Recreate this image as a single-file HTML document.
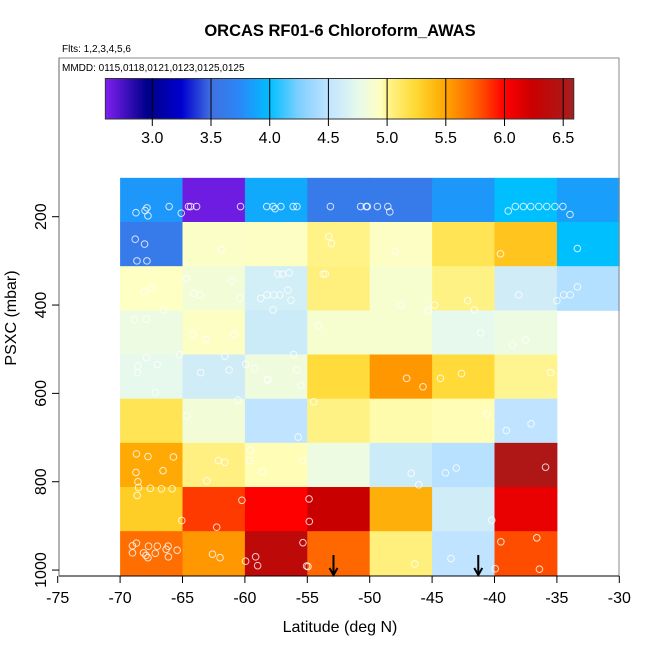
<!DOCTYPE html>
<html><head><meta charset="utf-8"><style>
html,body{margin:0;padding:0;background:#fff;}
svg{display:block;font-family:"Liberation Sans",sans-serif;}
</style></head><body>
<svg id="chart" width="650" height="650" viewBox="0 0 650 650" xmlns="http://www.w3.org/2000/svg">
<rect width="650" height="650" fill="#fff"/>
<text x="340" y="36" text-anchor="middle" font-size="16.5" font-weight="bold">ORCAS RF01-6 Chloroform_AWAS</text>
<text x="62" y="52" font-size="10">Flts: 1,2,3,4,5,6</text>
<text x="62" y="71" font-size="10">MMDD: 0115,0118,0121,0123,0125,0125</text>
<g id="cells"></g>
<g id="pts"></g>
<g id="arrows"></g>
<rect x="59" y="58" width="560" height="518" fill="none" stroke="#888" stroke-width="1"/>
<line x1="59" y1="576" x2="619" y2="576" stroke="#000" stroke-width="1"/>
<line x1="59" y1="58" x2="59" y2="576" stroke="#666" stroke-width="1"/>
<g id="cbar"></g>
<g id="xaxis"></g>
<g id="yaxis"></g>
<text x="340" y="632" text-anchor="middle" font-size="16">Latitude (deg N)</text>
<text transform="translate(16,318) rotate(-90)" text-anchor="middle" font-size="16">PSXC (mbar)</text>
</svg>
<script>
const latEdges = [-70,-65,-60,-55,-50,-45,-40,-35,-30];
const presEdges = [112,212,312,412,512,612,712,812,912,1012];
const cellValues = [
 [3.82,2.65,3.9,3.6,3.6,3.82,4.0,3.85],
 [3.6,4.92,4.93,5.02,4.93,5.15,5.35,4.0],
 [4.94,4.85,4.62,5.05,4.88,5.03,4.6,4.45],
 [4.8,4.93,4.58,4.88,4.88,4.75,4.8,null],
 [4.75,4.6,4.82,5.22,5.55,5.23,5.0,null],
 [5.15,4.85,4.5,5.03,4.97,4.96,4.5,null],
 [5.48,5.04,4.96,4.8,4.58,4.47,6.5,null],
 [5.3,5.85,6.0,6.25,5.45,4.6,6.1,null],
 [5.7,5.55,6.35,5.72,5.05,4.5,5.8,null]
];
const ptLat = [-68.73,-68.0,-67.85,-67.77,-66.07,-65.1,-64.52,-64.35,-63.87,-60.35,-58.25,-57.74,-57.58,-57.12,-56.13,-55.83,-53.15,-50.73,-50.27,-50.19,-49.38,-48.55,-48.39,-38.9,-38.33,-37.69,-37.1,-36.45,-35.81,-35.16,-34.52,-33.95,
-68.79,-68.04,-68.65,-67.85,-61.91,-53.28,-53.06,-47.96,-39.52,-33.36,
-67.52,-68.09,-66.53,-64.7,-64.09,-63.6,-61.05,-60.4,-57.36,-56.99,-56.45,-58.73,-58.23,-57.69,-57.2,-56.56,-56.31,-57.74,-53.73,-53.55,-47.5,-45.32,-44.81,-42.15,-41.61,-38.06,-35.0,-34.46,-33.93,-33.36,
-68.85,-67.9,-64.17,-63.12,-60.89,-54.09,-41.1,-38.57,-37.52,
-67.88,-67.02,-68.57,-68.6,-65.24,-61.61,-63.55,-61.27,-59.94,-59.22,-56.1,-55.83,-58.21,-67.18,-60.56,-58.17,-55.51,-47.04,-45.73,-44.33,-42.64,-35.51,
-64.65,-55.73,-54.49,-40.62,-39.06,-37.07,
-68.69,-67.77,-65.73,-68.73,-66.56,-68.57,-68.52,-67.58,-66.69,-65.83,-68.63,-62.12,-61.61,-63.06,-59.54,-59.62,-58.6,-55.38,-46.67,-46.07,-43.93,-43.06,-35.91,
-65.06,-60.24,-62.26,-54.86,-54.84,-40.22,
-69.01,-68.69,-69.01,-68.12,-67.93,-67.77,-67.72,-67.02,-67.18,-66.31,-66.15,-66.13,-65.43,-62.6,-61.99,-59.94,-59.14,-58.98,-55.35,-55.06,-54.94,-46.39,-43.49,-39.94,-39.49,-36.61,-36.4];
const ptPres = [191,186,180,198,177,192,177,177,177,177,177,177,182,177,177,177,177,177,177,177,177,177,189,187,177,177,177,177,177,177,177,195,
251,262,300,300,275,245,261,278,284,272,
361,370,411,340,373,377,345,385,330,330,327,385,377,377,377,366,389,411,330,330,401,413,400,390,411,377,390,377,377,359,
433,432,466,478,466,447,463,490,479,
519,535,538,553,512,516,553,547,534,544,512,547,568,598,615,570,582,566,585,566,555,553,
651,699,619,647,684,669,
737,743,744,779,775,800,813,815,816,816,831,752,756,798,729,752,777,752,781,807,780,769,767,
888,842,903,839,890,887,
945,939,961,961,967,972,946,946,962,953,946,970,955,964,972,980,970,990,938,991,992,986,974,997,936,927,998];
const arrowLat = [-52.9,-41.3];
const xTicks = [-75,-70,-65,-60,-55,-50,-45,-40,-35,-30];
const yTicks = [200,400,600,800,1000];
const cbTicks = [3.0,3.5,4.0,4.5,5.0,5.5,6.0,6.5];
const cbRange = [2.6,6.59];

const NS='http://www.w3.org/2000/svg';
function xs(l){return 120.1+(l+70)*12.48;}
function ys(p){return 216.7+(p-200)*0.4417;}
function cbx(v){return 152.3+(v-3.0)*117.4;}
const stops=[[2.6,'#8020f0'],[2.95,'#00008b'],[3.0,'#000090'],[3.25,'#0000d0'],[3.5,'#4070e0'],[3.75,'#2a88f8'],[4.0,'#00bfff'],[4.25,'#7fcfff'],[4.5,'#c0e4ff'],[4.75,'#e6f9ec'],[4.95,'#ffffc0'],[5.0,'#fff590'],[5.25,'#ffd830'],[5.5,'#ffa500'],[5.75,'#ff6000'],[6.0,'#ff0000'],[6.25,'#c80000'],[6.6,'#a52020']];
function hex(h){return [1,3,5].map(i=>parseInt(h.substr(i,2),16));}
function cmap(v){
  if(v<=stops[0][0])return stops[0][1];
  for(let i=1;i<stops.length;i++){if(v<=stops[i][0]){const a=hex(stops[i-1][1]),b=hex(stops[i][1]);const t=(v-stops[i-1][0])/(stops[i][0]-stops[i-1][0]);return 'rgb('+a.map((c,k)=>Math.round(c+(b[k]-c)*t)).join(',')+')';}}
  return stops[stops.length-1][1];
}
function mk(tag,attrs,parent){const e=document.createElementNS(NS,tag);for(const k in attrs)e.setAttribute(k,attrs[k]);parent.appendChild(e);return e;}

const cells=document.getElementById('cells');
cellValues.forEach((row,r)=>row.forEach((v,c)=>{
  if(v===null)return;
  const x0=xs(latEdges[c]),x1=xs(latEdges[c+1]),y0=ys(presEdges[r]),y1=ys(presEdges[r+1]);
  const e=mk('rect',{x:x0,y:y0,width:x1-x0+0.5,height:y1-y0+0.5,fill:cmap(v)},cells);
  
  
}));
const pts=document.getElementById('pts');
ptLat.forEach((l,i)=>{
  const e=mk('circle',{cx:xs(l),cy:ys(ptPres[i]),r:3.3,fill:'none',stroke:'#fff','stroke-opacity':0.8,'stroke-width':1},pts);
  
  
});
const ar=document.getElementById('arrows');
arrowLat.forEach(l=>{
  const x=xs(l);
  const g=mk('g',{},ar);
  
  
  mk('line',{x1:x,y1:555,x2:x,y2:575,stroke:'#000','stroke-width':2},g);
  mk('polyline',{points:(x-4)+',568 '+x+',575 '+(x+4)+',568',fill:'none',stroke:'#000','stroke-width':2},g);
});
const cb=document.getElementById('cbar');
const defs=mk('defs',{},cb);
const grad=mk('linearGradient',{id:'cg',x1:'0',x2:'1',y1:'0',y2:'0'},defs);
for(let i=0;i<=80;i++){const v=cbRange[0]+(cbRange[1]-cbRange[0])*i/80;mk('stop',{offset:(i/80),'stop-color':cmap(v)},grad);}
const x0=cbx(cbRange[0]),x1=cbx(cbRange[1]);
const bar=mk('rect',{x:x0,y:78.5,width:x1-x0,height:40.5,fill:'url(#cg)',stroke:'#333','stroke-width':1},cb);


cbTicks.forEach(v=>{
  const x=cbx(v);
  mk('line',{x1:x,y1:78.5,x2:x,y2:126,stroke:'#000','stroke-width':1},cb);
  const t=mk('text',{x:x,y:143,'text-anchor':'middle','font-size':16},cb);
  t.textContent=v.toFixed(1);
  
  
});
const xa=document.getElementById('xaxis');
xTicks.forEach(v=>{
  const x=xs(v);
  mk('line',{x1:x,y1:576,x2:x,y2:583,stroke:'#000','stroke-width':1},xa);
  const t=mk('text',{x:x,y:603,'text-anchor':'middle','font-size':16},xa);
  t.textContent=v;
  
  
});
const ya=document.getElementById('yaxis');
yTicks.forEach(v=>{
  const y=ys(v);
  mk('line',{x1:52,y1:y,x2:59,y2:y,stroke:'#000','stroke-width':1},ya);
  const t=mk('text',{transform:'translate(46,'+y+') rotate(-90)','text-anchor':'middle','font-size':16},ya);
  t.textContent=v;
  
  
});
</script>
</body></html>
